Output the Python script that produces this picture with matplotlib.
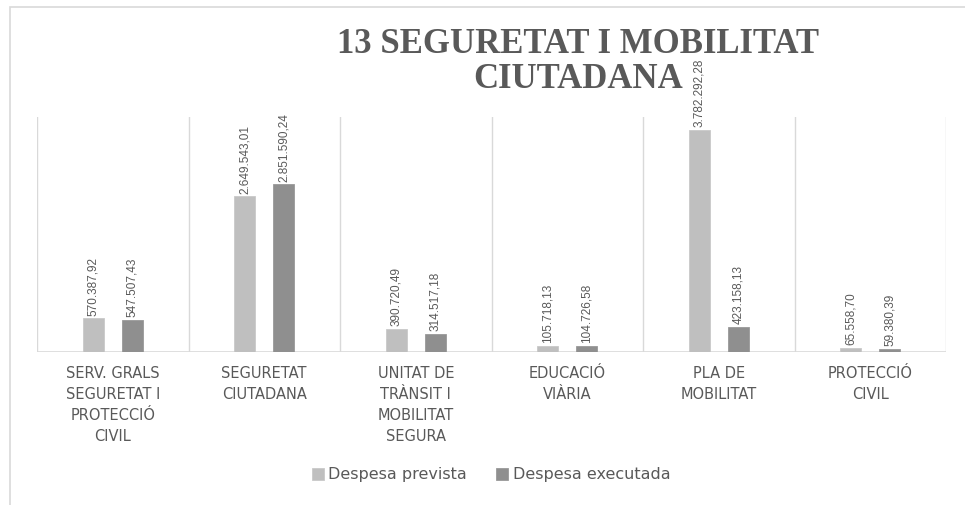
import matplotlib
matplotlib.use('Agg')
import matplotlib.pyplot as plt
import numpy as np
from matplotlib.patches import Rectangle

# Dades
categories = ["SERV. GRALS\nSEGURETAT I\nPROTECCIÓ\nCIVIL",
              "SEGURETAT\nCIUTADANA",
              "UNITAT DE\nTRÀNSIT I\nMOBILITAT\nSEGURA",
              "EDUCACIÓ\nVIÀRIA",
              "PLA DE\nMOBILITAT",
              "PROTECCIÓ\nCIVIL"]
prevista = [570387.92, 2649543.01, 390720.49, 105718.13, 3782292.28, 65558.70]
executada = [547507.43, 2851590.24, 314517.18, 104726.58, 423158.13, 59380.39]
labels_prevista = ["570.387,92", "2.649.543,01", "390.720,49", "105.718,13", "3.782.292,28", "65.558,70"]
labels_executada = ["547.507,43", "2.851.590,24", "314.517,18", "104.726,58", "423.158,13", "59.380,39"]
title_lines = ["13 SEGURETAT I MOBILITAT", "CIUTADANA"]

TXT = '#595959'
LIGHT = '#BFBFBF'
DARK = '#8F8F8F'
GRID = '#D9D9D9'

plt.rcParams['font.family'] = ['DejaVu Sans']

fig = plt.figure(figsize=(9.65, 5.05), dpi=100, facecolor='white')
W, H = 965, 505

# marc del gràfic
fig.patches.append(Rectangle((10 / W, -0.1), 1.2, 1 - 7 / H + 0.1, transform=fig.transFigure,
                             fill=False, edgecolor=GRID, linewidth=1.2))

ax = fig.add_axes([37 / W, (H - 352) / H, (946 - 37) / W, (352 - 117) / H])
x = np.arange(len(categories))
off = 0.128
bw = 0.14
ax.bar(x - off, prevista, bw, color=LIGHT, edgecolor='#C9C9C9', linewidth=0.6, label='Despesa prevista')
ax.bar(x + off, executada, bw, color=DARK, edgecolor='#999999', linewidth=0.6, label='Despesa executada')

for i in range(len(x)):
    ax.annotate(labels_prevista[i], (x[i] - off, prevista[i]), xytext=(0, 2), textcoords='offset points',
                rotation=90, ha='center', va='bottom', fontsize=8.5, color=TXT, family='Liberation Sans')
    ax.annotate(labels_executada[i], (x[i] + off, executada[i]), xytext=(0, 2), textcoords='offset points',
                rotation=90, ha='center', va='bottom', fontsize=8.5, color=TXT, family='Liberation Sans')

ax.set_xlim(-0.5, len(x) - 0.5)
ax.set_ylim(0, 4000000)
for b in np.arange(-0.5, len(x), 1.0):
    ax.axvline(b, color=GRID, linewidth=1, zorder=0)
ax.axhline(0, color=GRID, linewidth=1.2, zorder=0)
for s in ax.spines.values():
    s.set_visible(False)
ax.set_yticks([])
ax.set_xticks(x)
ax.set_xticklabels(categories, fontsize=10.5, color=TXT, linespacing=1.5, family='DejaVu Sans')
ax.tick_params(axis='x', length=0, pad=10)
ax.patch.set_alpha(0)

# títol (per sota de les etiquetes, com a l'original)
for k, line in enumerate(title_lines):
    fig.text(578 / W, 1 - (53 + 35 * k) / H, line, ha='center', va='baseline',
             fontsize=25, fontweight='bold', family='Liberation Serif', color=TXT, zorder=0)

fig.legend(loc='center', bbox_to_anchor=(491 / W, 1 - 475 / H), ncol=2, frameon=False,
           fontsize=11.5, labelcolor=TXT, handlelength=0.75, handleheight=0.75, handletextpad=0.3,
           columnspacing=1.8)

plt.savefig('out.png', dpi=100, facecolor='white')
